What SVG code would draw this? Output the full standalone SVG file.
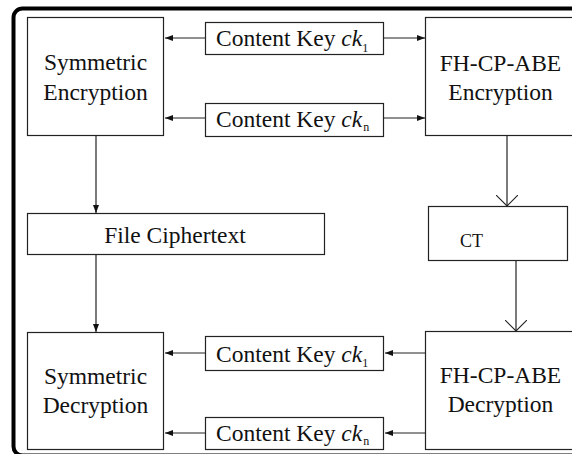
<svg xmlns="http://www.w3.org/2000/svg" width="572" height="454" viewBox="0 0 572 454">
<style>
.box{fill:#fff;stroke:#222;stroke-width:1.2}
.t{font-family:"Liberation Serif","Times New Roman",serif;font-size:23.5px;fill:#111;text-anchor:middle}
.k{font-family:"Liberation Serif","Times New Roman",serif;font-size:23.5px;fill:#111}
.sub{font-size:12px;font-style:normal}
.ln{stroke:#222;stroke-width:1.2;fill:none}
</style>
<defs>
<marker id="ah" viewBox="0 0 8 6" refX="8" refY="3" markerWidth="8" markerHeight="6" markerUnits="userSpaceOnUse" orient="auto">
<path d="M0,0 L8,3 L0,6 z" fill="#111"/>
</marker>
<marker id="va" viewBox="0 0 12 22" refX="11" refY="11" markerWidth="12" markerHeight="22" markerUnits="userSpaceOnUse" orient="auto">
<path d="M0,0 L11,11 L0,22" fill="none" stroke="#222" stroke-width="1.1"/>
</marker>
</defs>
<rect width="572" height="454" fill="#fff"/>
<rect x="13.5" y="8.5" width="620" height="447" rx="9" fill="none" stroke="#000" stroke-width="4"/>

<g id="connectors">
<line class="ln" x1="205" y1="38" x2="165" y2="38" marker-end="url(#ah)"/>
<line class="ln" x1="384" y1="38" x2="425" y2="38" marker-end="url(#ah)"/>
<line class="ln" x1="205" y1="118" x2="165" y2="118" marker-end="url(#ah)"/>
<line class="ln" x1="384" y1="118" x2="425" y2="118" marker-end="url(#ah)"/>
<line class="ln" x1="96" y1="136" x2="96" y2="213" marker-end="url(#ah)"/>
<line class="ln" x1="96" y1="255" x2="96" y2="332" marker-end="url(#ah)"/>
<line class="ln" x1="507" y1="136" x2="507" y2="206" marker-end="url(#va)"/>
<line class="ln" x1="516" y1="261" x2="516" y2="331" marker-end="url(#va)"/>
<line class="ln" x1="425" y1="353" x2="385" y2="353" marker-end="url(#ah)"/>
<line class="ln" x1="205" y1="353" x2="165" y2="353" marker-end="url(#ah)"/>
<line class="ln" x1="425" y1="433" x2="385" y2="433" marker-end="url(#ah)"/>
<line class="ln" x1="205" y1="433" x2="165" y2="433" marker-end="url(#ah)"/>
</g>

<g id="sym-enc">
<rect class="box" x="27.5" y="17.5" width="136" height="118"/>
<text class="t" x="95.5" y="70">Symmetric</text>
<text class="t" x="95.5" y="100">Encryption</text>
</g>

<g id="ck1-top">
<rect class="box" x="205.5" y="22.5" width="178" height="32"/>
<text class="k" x="216" y="46">Content Key <tspan font-style="italic">ck</tspan><tspan class="sub" dy="6">1</tspan></text>
</g>

<g id="ckn-top">
<rect class="box" x="205.5" y="103.5" width="178" height="33"/>
<text class="k" x="216" y="127">Content Key <tspan font-style="italic">ck</tspan><tspan class="sub" dx="1" dy="4">n</tspan></text>
</g>

<g id="abe-enc">
<rect class="box" x="425.5" y="17.5" width="160" height="118"/>
<text class="t" x="500.5" y="71">FH-CP-ABE</text>
<text class="t" x="500.5" y="100">Encryption</text>
</g>

<g id="file-ct">
<rect class="box" x="27.5" y="213.5" width="297" height="41"/>
<text class="t" x="175" y="243">File Ciphertext</text>
</g>

<g id="ct">
<rect class="box" x="428.5" y="206.5" width="139" height="54"/>
<text class="k" x="460" y="247" style="font-size:18px">CT</text>
</g>

<g id="sym-dec">
<rect class="box" x="27.5" y="332.5" width="136" height="117"/>
<text class="t" x="95.5" y="384">Symmetric</text>
<text class="t" x="95.5" y="412.5">Decryption</text>
</g>

<g id="ck1-bot">
<rect class="box" x="205.5" y="336.5" width="178" height="34"/>
<text class="k" x="216" y="361.5">Content Key <tspan font-style="italic">ck</tspan><tspan class="sub" dy="5">1</tspan></text>
</g>

<g id="ckn-bot">
<rect class="box" x="205.5" y="417.5" width="178" height="32"/>
<text class="k" x="216" y="440.5">Content Key <tspan font-style="italic">ck</tspan><tspan class="sub" dx="1" dy="4">n</tspan></text>
</g>

<g id="abe-dec">
<rect class="box" x="425.5" y="331.5" width="160" height="118"/>
<text class="t" x="500.5" y="383">FH-CP-ABE</text>
<text class="t" x="500.5" y="412">Decryption</text>
</g>
</svg>
